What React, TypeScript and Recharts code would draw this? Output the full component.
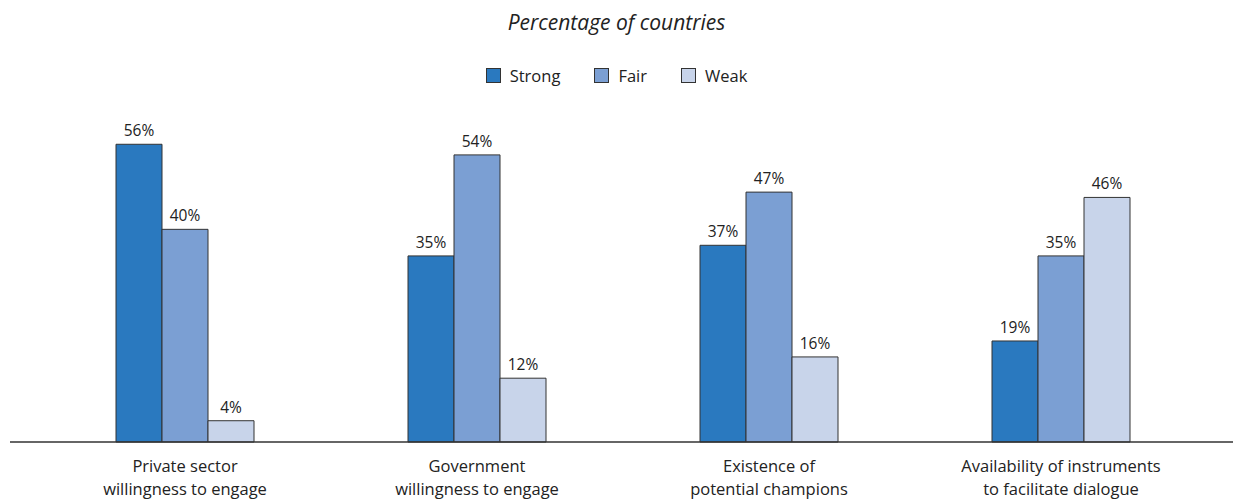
import { BarChart, Bar, XAxis, YAxis, Legend, LabelList } from "recharts";

const categories = [
  "Private sector\nwillingness to engage",
  "Government\nwillingness to engage",
  "Existence of\npotential champions",
  "Availability of instruments\nto facilitate dialogue",
];
const strong = [56, 35, 37, 19];
const fair = [40, 54, 47, 35];
const weak = [4, 12, 16, 46];

const series = [
  { key: "strong", name: "Strong", color: "#2a79bf" },
  { key: "fair", name: "Fair", color: "#7b9fd3" },
  { key: "weak", name: "Weak", color: "#c8d4ea" },
];

const data = categories.map((name, i) => ({
  name,
  strong: strong[i],
  fair: fair[i],
  weak: weak[i],
}));

const FONT = "'Open Sans', 'Noto Sans', sans-serif";

const CategoryTick = (props: any) => {
  const { x, y, payload } = props;
  const lines = String(payload.value).split("\n");
  return (
    <g transform={`translate(${x},${y})`}>
      {lines.map((line: string, i: number) => (
        <text
          key={i}
          x={0}
          y={i * 23}
          dy={22}
          textAnchor="middle"
          fill="#222"
          fontSize={16.5}
          fontFamily={FONT}
        >
          {line}
        </text>
      ))}
    </g>
  );
};

const LegendContent = () => (
  <div
    style={{
      display: "flex",
      justifyContent: "center",
      gap: 34,
      fontFamily: FONT,
      fontSize: 16.5,
      color: "#222",
    }}
  >
    {series.map((s) => (
      <div key={s.key} style={{ display: "flex", alignItems: "center" }}>
        <span
          style={{
            display: "inline-block",
            width: 13,
            height: 13,
            background: s.color,
            border: "1px solid #333",
            marginRight: 9,
          }}
        />
        {s.name}
      </div>
    ))}
  </div>
);

export default function App() {
  return (
    <div style={{ position: "absolute", left: 0, top: 0, width: 1233, height: 501, background: "#fff" }}>
      <div
        style={{
          position: "absolute",
          top: 8,
          width: 1233,
          textAlign: "center",
          fontFamily: FONT,
          fontStyle: "italic",
          fontSize: 21,
          color: "#222",
        }}
      >
        Percentage of countries
      </div>
      <BarChart
        width={1233}
        height={501}
        data={data}
        margin={{ top: 100, right: 0, left: 10, bottom: 0 }}
        barGap={0}
        barCategoryGap={77}
      >
        <XAxis
          dataKey="name"
          padding={{ left: 29, right: 26 }}
          axisLine={{ stroke: "#333", strokeWidth: 1.5 }}
          tickLine={false}
          tick={<CategoryTick />}
          interval={0}
          height={59}
        />
        <YAxis hide domain={[0, 60]} />
        <Legend
          verticalAlign="top"
          content={<LegendContent />}
          wrapperStyle={{ top: 64, left: 0, width: 1233 }}
        />
        {series.map((s) => (
          <Bar
            key={s.key}
            dataKey={s.key}
            name={s.name}
            fill={s.color}
            stroke="#333"
            strokeWidth={1}
            isAnimationActive={false}
          >
            <LabelList
              dataKey={s.key}
              position="top"
              offset={8}
              formatter={(v: any) => `${v}%`}
              fill="#222"
              fontSize={15.5}
              fontFamily={FONT}
            />
          </Bar>
        ))}
      </BarChart>
    </div>
  );
}
